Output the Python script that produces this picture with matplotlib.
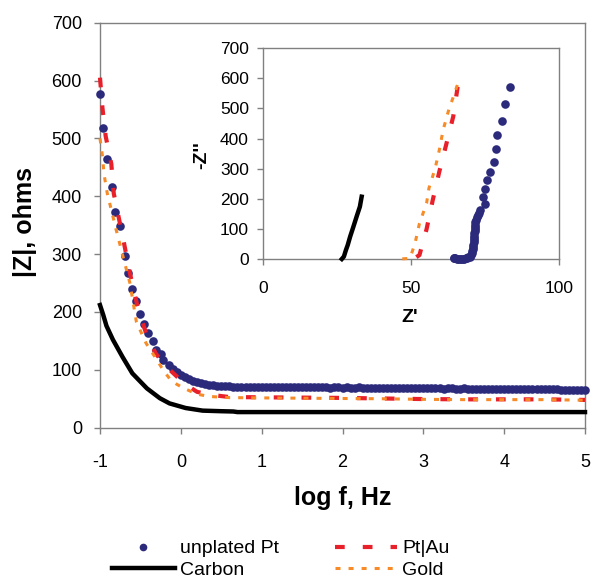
import matplotlib
matplotlib.use("Agg")
import matplotlib.pyplot as plt
from matplotlib.lines import Line2D

# |Z| vs log f
log_f_pt = [-1.00, -0.96, -0.91, -0.85, -0.81, -0.75, -0.69, -0.65, -0.60, -0.56,
            -0.50, -0.45, -0.40, -0.35, -0.31, -0.25, -0.22,
            -0.15, -0.10, -0.05, 0.00, 0.05, 0.10, 0.15, 0.20, 0.25, 0.30, 0.35, 0.40,
            0.45, 0.50, 0.55, 0.60, 0.65, 0.70, 0.75, 0.80, 0.85, 0.90, 0.95,
            1.00, 1.05, 1.10, 1.15, 1.20, 1.25, 1.30, 1.35, 1.40, 1.45,
            1.50, 1.55, 1.60, 1.65, 1.70, 1.75, 1.80, 1.85, 1.90, 1.95,
            2.00, 2.05, 2.10, 2.15, 2.20, 2.25, 2.30, 2.35, 2.40, 2.45,
            2.50, 2.55, 2.60, 2.65, 2.70, 2.75, 2.80, 2.85, 2.90, 2.95,
            3.00, 3.05, 3.10, 3.15, 3.20, 3.25, 3.30, 3.35, 3.40, 3.45,
            3.50, 3.55, 3.60, 3.65, 3.70, 3.75, 3.80, 3.85, 3.90, 3.95,
            4.00, 4.05, 4.10, 4.15, 4.20, 4.25, 4.30, 4.35, 4.40, 4.45,
            4.50, 4.55, 4.60, 4.65, 4.70, 4.75, 4.80, 4.85, 4.90, 4.95,
            5.00]
z_pt = [576, 518, 464, 416, 372, 348, 297, 267, 240, 219,
        197, 179, 163, 149, 135, 128, 117,
        108, 102, 96, 91, 87, 83.5, 80.5, 78.5, 76.5, 75, 74, 73,
        72.5, 72, 71.5, 71.5, 71, 71, 71, 70.5, 71, 70.5, 70.5,
        70.5, 70, 70.5, 70, 70, 70.5, 70, 70, 69.5, 70,
        70, 69.5, 70, 69.5, 69.5, 70, 69.5, 69, 69.5, 69.5,
        69, 69.5, 69, 69, 69.5, 69, 68.5, 69, 69, 68.5,
        69, 68.5, 68.5, 69, 68.5, 68, 68.5, 68.5, 68, 68.5,
        68, 68, 68.5, 68, 68, 67.5, 68, 68, 67.5, 67.5,
        68, 67.5, 67.5, 67, 67.5, 67.5, 67, 67.5, 67, 67,
        67.5, 67, 67, 67, 66.5, 67, 67, 66.5, 67, 66.5,
        66.5, 67, 66.5, 66.5, 66, 65.5, 65.5, 65.5, 65, 65,
        64.5]

log_f_au = [-1.00, -0.97, -0.93, -0.86, -0.83, -0.71, -0.63, -0.54, -0.43, -0.31,
            -0.16, 0.00, 0.08, 0.20, 0.36, 0.60, 1.00, 1.50, 2.00, 2.50,
            3.00, 3.50, 4.00, 4.50, 5.00]
z_au = [605, 553, 504, 456, 405, 324, 267, 212, 163, 128,
        103, 82, 73, 62, 57, 53, 52.5, 52, 51.5, 50.5,
        49.5, 49, 49, 49, 48]

log_f_c = [-1.00, -0.96, -0.92, -0.84, -0.72, -0.60, -0.42, -0.26, -0.14, 0.06,
           0.27, 0.50, 0.65, 0.70, 1.50, 2.50, 3.50, 4.50, 5.00]
z_c = [212, 195, 176, 152, 122, 94, 68, 51, 42, 34,
       29.5, 28.5, 28, 27, 27, 27, 27, 27, 27]

log_f_gold = [-1.00, -0.97, -0.95, -0.91, -0.80, -0.71, -0.63, -0.55, -0.43, -0.30,
              -0.22, -0.14, -0.05, 0.04, 0.20, 0.35, 0.60, 1.00, 1.50, 2.00,
              2.50, 3.00, 3.50, 4.00, 4.50, 5.00]
z_gold = [500, 470, 438, 405, 342, 293, 250, 183, 146, 118,
          100, 85, 75, 68, 58, 54, 52, 51.5, 51, 50.5,
          50, 49, 48.5, 48.5, 48.5, 47.5]

# Nyquist inset: Z' and -Z''
zr_pt = [83.5, 81.9, 80.9, 79.2, 78.6, 78.1, 76.7, 75.6, 75.0, 74.5,
         75.0, 73.3, 72.9, 72.6, 72.3, 72.0, 71.8, 71.7, 71.6, 71.6,
         71.5, 71.4, 71.4, 71.3, 71.3, 71.2, 71.1, 71.1, 71.0, 70.8,
         70.5, 70.2, 69.8, 69.4, 69.0, 68.5, 68.0, 67.5, 67.0, 66.5,
         66.0, 65.5, 65.0, 64.7, 64.5]
zi_pt = [572, 515, 458, 412, 364, 323, 290, 262, 231, 205,
         183, 163, 152, 146, 138, 130, 122, 114, 107, 100,
         92, 85, 78, 70, 63, 56, 48, 41, 34, 27,
         19, 13, 8, 5, 3, 2, 1, 0.5, 0, 0,
         0, 1, 2, 3, 4]

zr_au = [65.8, 64.3, 61.9, 59.6, 57.4, 55.3, 52.9, 51.8, 50.8, 50.0]
zi_au = [572, 473, 379, 290, 196, 99, 13, 6, 1, 0]

zr_c = [33.4, 32.8, 31.7, 30.6, 29.5, 28.7, 28.1, 27.4, 26.7]
zi_c = [207, 174, 141, 107, 74, 46.5, 30, 8, 0]

zr_gold = [65.7, 62.6, 60.9, 59.6, 58.2, 56.1, 55.3, 52.9, 51.4, 49.7, 48.0, 46.3]
zi_gold = [578, 489, 429, 362, 301, 235, 185, 118, 52, 2, 1, 0]

x_ticks = [-1, 0, 1, 2, 3, 4, 5]
y_ticks = [0, 100, 200, 300, 400, 500, 600, 700]
inset_x_ticks = [0, 50, 100]

NAVY = "#2b2a7b"
RED = "#e8202a"
ORANGE = "#f68b28"
GRAY = "#808080"

plt.rcParams["font.family"] = ["Liberation Sans", "DejaVu Sans"]
plt.rcParams["lines.scale_dashes"] = False
plt.rcParams["axes.unicode_minus"] = False

fig = plt.figure(figsize=(5.92, 5.80), dpi=100)


def style_axes(ax, size, ypad, xpad):
    for sp in ax.spines.values():
        sp.set_color(GRAY)
        sp.set_linewidth(1.0)
    ax.tick_params(direction="out", length=4, width=1.0, color=GRAY,
                   labelsize=size)
    ax.tick_params(axis="y", pad=ypad)
    ax.tick_params(axis="x", pad=xpad)


def draw_series(ax, xs, ys):
    (x_pt, x_au, x_c, x_gold), (y_pt, y_au, y_c, y_gold) = xs, ys
    ax.plot(x_pt, y_pt, "o", color=NAVY, ms=6.2, mew=0, clip_on=False, zorder=3)
    ax.plot(x_au, y_au, color=RED, lw=3.0, dashes=(7, 13),
            dash_capstyle="butt", clip_on=False, zorder=4)
    ax.plot(x_c, y_c, color="black", lw=3.2, clip_on=False, zorder=4)
    ax.plot(x_gold, y_gold, color=ORANGE, lw=2.2, dashes=(3.6, 5.8),
            dash_capstyle="butt", clip_on=False, zorder=5)


# main plot
ax = fig.add_axes([100 / 592, 1 - 427.7 / 580, 485 / 592, 405 / 580])
draw_series(ax, (log_f_pt, log_f_au, log_f_c, log_f_gold),
            (z_pt, z_au, z_c, z_gold))
ax.set_xlim(-1, 5)
ax.set_ylim(0, 700)
ax.set_xticks(x_ticks)
ax.set_yticks(y_ticks)
style_axes(ax, 13, 9, 15)

fig.text(343 / 592, 1 - 498 / 580, "log f, Hz", ha="center", va="center",
         fontsize=18, fontweight="bold")
fig.text(25 / 592, 1 - 222 / 580, "|Z|, ohms", ha="center", va="center",
         rotation=90, fontsize=18, fontweight="bold")

# Nyquist inset
ins = fig.add_axes([262.7 / 592, 1 - 259 / 580, 296.3 / 592, 210.7 / 580])
draw_series(ins, (zr_pt, zr_au, zr_c, zr_gold), (zi_pt, zi_au, zi_c, zi_gold))
ins.set_xlim(0, 100)
ins.set_ylim(0, 700)
ins.set_xticks(inset_x_ticks)
ins.set_yticks(y_ticks)
style_axes(ins, 12.5, 6, 12)

fig.text(410 / 592, 1 - 317 / 580, "Z'", ha="center", va="center",
         fontsize=14, fontweight="bold")
fig.text(201.7 / 592, 1 - 155 / 580, "-Z''", ha="center", va="center",
         rotation=90, fontsize=14, fontweight="bold")

# legend below the axes
handles = [
    Line2D([], [], ls="none", marker="o", color=NAVY, ms=5.5, mew=0),
    Line2D([], [], color="black", lw=3.2),
    Line2D([], [], color=RED, lw=3.0, dashes=(7, 13), dash_capstyle="butt"),
    Line2D([], [], color=ORANGE, lw=2.2, dashes=(3.6, 5.8), dash_capstyle="butt"),
]
labels = ["unplated Pt", "Carbon", "Pt|Au", "Gold"]
fig.legend(handles, labels, loc="center", bbox_to_anchor=(281 / 592, 1 - 559.5 / 580),
           ncol=2, frameon=False, fontsize=14, handlelength=3.2,
           handletextpad=0.26, columnspacing=2.9, labelspacing=0.22,
           numpoints=1, borderpad=0)

fig.savefig("out.png", dpi=100)
